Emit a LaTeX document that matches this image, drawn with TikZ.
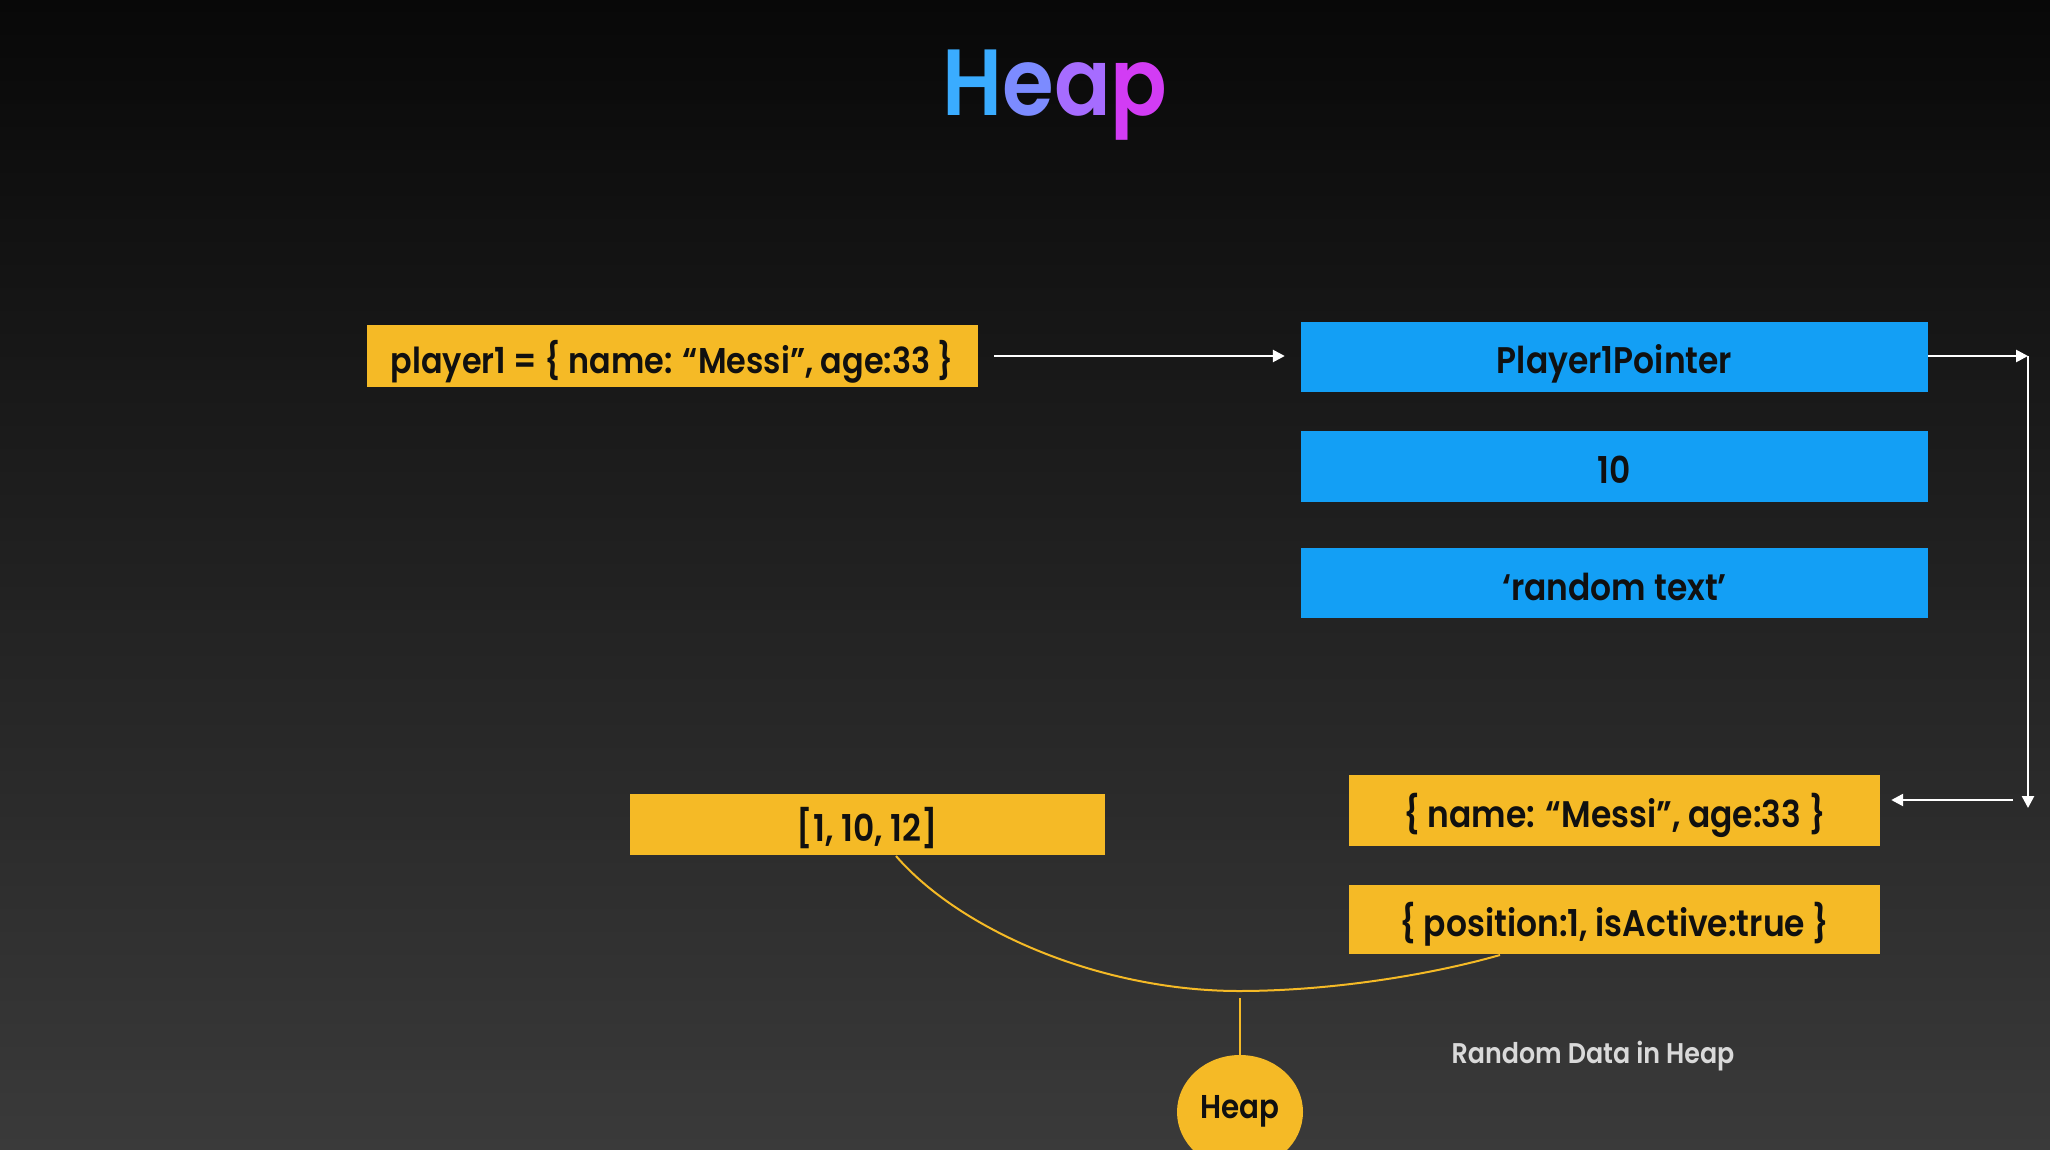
\documentclass[tikz,border=0pt]{standalone}
\usepackage{fontspec}
\setmainfont{Poppins}
\newfontfamily\pop{Poppins SemiBold}[FakeStretch=0.89]
\usetikzlibrary{arrows.meta,shapes.geometric}
\definecolor{bgtop}{HTML}{080808}
\definecolor{bgbot}{HTML}{3A3A3A}
\definecolor{ybox}{HTML}{F5BA26}
\definecolor{bbox}{HTML}{139FF5}
\definecolor{ink}{HTML}{101010}
\definecolor{lbl}{HTML}{D9D9D9}
\definecolor{tH}{HTML}{3AACFF}
\definecolor{tE}{HTML}{7C8BFF}
\definecolor{tA}{HTML}{A66CFF}
\definecolor{tP}{HTML}{D23CF4}
\tikzset{
  boxtext/.style={text=ink, inner sep=0pt, text height=34pt, text depth=0pt,
    font=\pop\fontsize{37}{44}\selectfont},
  ybx/.style={boxtext, fill=ybox},
  bbx/.style={boxtext, fill=bbox},
  whitearrow/.style={draw=white, line width=2.5pt, -{Triangle[length=12pt,width=12pt]}},
  yline/.style={draw=ybox, line width=2pt},
}
\begin{document}
\begin{tikzpicture}[x=1pt,y=-1pt]
\shade[top color=bgtop, bottom color=bgbot] (0,0) rectangle (2050,1150);
\useasboundingbox (0,0) rectangle (2050,1150);

% title
\node[anchor=base, inner sep=0pt, font=\pop\fontsize{94}{100}\selectfont] (title) at (1055,116)
  {\textcolor{tH}{H}\textcolor{tE}{e}\textcolor{tA}{a}\textcolor{tP}{p}};

% stack side
\node[ybx, minimum width=611pt, minimum height=62pt, font=\pop\fontsize{35.8}{44}\selectfont] (p1) at (672.5,356)
  {player1 = \{ name: “Messi”, age:33 \}};

% blue boxes
\node[bbx, minimum width=627pt, minimum height=70pt] (b1) at (1614.5,356.5) {Player1Pointer};
\node[bbx, minimum width=627pt, minimum height=71pt] (b2) at (1614.5,466.5) {10};
\node[bbx, minimum width=627pt, minimum height=70pt] (b3) at (1614.5,583) {‘random text’};

% heap boxes
\node[ybx, minimum width=531pt, minimum height=71pt] (y1) at (1614.5,810.5) {\{ name: “Messi”, age:33 \}};
\node[ybx, minimum width=531pt, minimum height=69pt] (y2) at (1614.5,919.5) {\{ position:1, isActive:true \}};
\node[ybx, minimum width=475pt, minimum height=61pt] (arr) at (867.5,824.5) {[1, 10, 12]};

% heap ellipse
\node[ellipse, fill=ybox, text=ink, minimum width=126pt, minimum height=114pt, inner sep=0pt,
  text height=24pt, text depth=12pt, font=\pop\fontsize{33}{38}\selectfont] (heap) at (1240,1112) {Heap};

% label
\node[anchor=base, inner sep=0pt, text=lbl, font=\pop\fontsize{28.5}{32}\selectfont] (lab) at (1593,1063)
  {Random Data in Heap};

% arrows
\draw[whitearrow] ([xshift=16pt]p1.east) -- ([xshift=-16pt]b1.west |- p1.east);
\coordinate (c1) at (2028,356);
\coordinate (c2) at (2028,808);
\coordinate (c3) at (2013,800);
\draw[whitearrow] (b1.east |- c1) -- (c1);
\draw[whitearrow] (c1) -- (c2);
\draw[whitearrow] (c3) -- ([xshift=11pt]y1.east |- c3);

% curve
\coordinate (cs) at (896,856);
\coordinate (cm) at (1239,991);
\coordinate (ce) at (1500,955);
\draw[yline] (cs) .. controls (960,930) and (1100,991) .. (cm)
  .. controls (1330,991) and (1430,975) .. (ce);
\coordinate (vt) at (1240,998);
\draw[yline] (vt) -- (heap.north);
\end{tikzpicture}
\end{document}
